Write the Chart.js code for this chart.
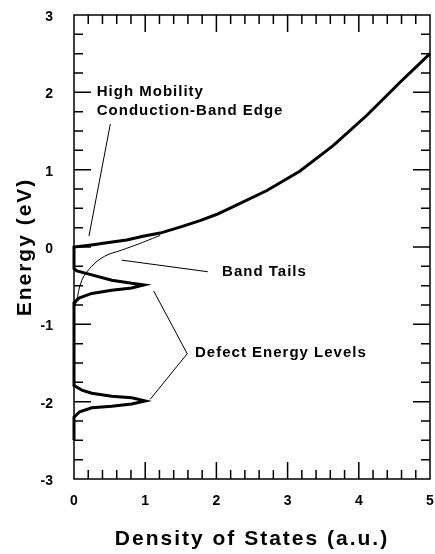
<!DOCTYPE html>
<html>
<head>
<meta charset="utf-8">
<script src="https://cdn.jsdelivr.net/npm/chart.js@4.4.1/dist/chart.umd.min.js"></script>
<style>
  body { margin: 0; background: #fff; }
</style>
</head>
<body>
<canvas id="doschart" width="435" height="554"></canvas>
<script>
// density of states, thick curve (x = DOS, E = energy in eV)
const dosX = [0, 0, 0.08, 0.25, 0.53, 0.81, 1.0, 0.81, 0.53, 0.25, 0.11, 0,
    0, 0.07, 0.25, 0.53, 0.81, 0.98, 0.81, 0.53, 0.25, 0.04, 0,
    0, 0.27, 0.51, 0.74, 0.97, 1.21, 1.5, 1.77, 2.0, 2.23, 2.71, 3.17, 3.64, 4.11, 4.58, 5.0];
const dosE = [-2.5, -2.2, -2.13, -2.08, -2.06, -2.03, -1.99, -1.95, -1.93, -1.89, -1.85, -1.79,
    -0.72, -0.66, -0.60, -0.56, -0.53, -0.49, -0.47, -0.43, -0.36, -0.31, -0.28,
    0, 0.03, 0.06, 0.09, 0.14, 0.18, 0.26, 0.34, 0.42, 0.52, 0.73, 0.98, 1.31, 1.70, 2.13, 2.50];

// band tail, thin curve
const tailX = [0, 0.03, 0.11, 0.25, 0.43, 0.67, 0.91, 1.1, 1.21];
const tailE = [-0.78, -0.72, -0.43, -0.25, -0.12, -0.04, 0.04, 0.11, 0.15];

// leader lines for the labels
const leaderMobilityX = [0.51, 0.21];
const leaderMobilityE = [1.59, 0.14];
const leaderTailsX = [0.67, 1.88];
const leaderTailsE = [-0.17, -0.32];
const leaderDefectX = [1.12, 1.59, 1.07];
const leaderDefectE = [-0.57, -1.38, -1.97];

const labelTexts = ['High Mobility', 'Conduction-Band Edge', 'Band Tails', 'Defect Energy Levels'];
const labelX = [0.32, 0.32, 2.08, 1.70];
const labelE = [2.0, 1.76, -0.32, -1.37];

const xTitle = 'Density of States (a.u.)';
const yTitle = 'Energy (eV)';
const xMin = 0, xMax = 5, xMinor = 0.2;
const yMin = -3, yMax = 3, yMinor = 0.25;

function points(xs, ys) {
    return xs.map((v, i) => ({ x: v, y: ys[i] }));
}

function lineSet(xs, ys, width, tension) {
    return {
        data: points(xs, ys),
        showLine: true,
        borderColor: '#000',
        borderWidth: width,
        pointRadius: 0,
        tension: tension || 0,
        clip: false
    };
}

const frameTicks = {
    id: 'frameTicks',
    afterDatasetsDraw(chart) {
        const { ctx, chartArea: a, scales: { x, y } } = chart;
        ctx.save();
        ctx.strokeStyle = '#000';
        ctx.lineWidth = 1.5;
        ctx.strokeRect(a.left, a.top, a.right - a.left, a.bottom - a.top);

        ctx.beginPath();
        const nx = Math.round((xMax - xMin) / xMinor);
        for (let i = 1; i < nx; i++) {
            const px = x.getPixelForValue(xMin + i * xMinor);
            const len = i % 5 == 0 ? 17 : 9;
            ctx.moveTo(px, a.bottom); ctx.lineTo(px, a.bottom - len);
            ctx.moveTo(px, a.top); ctx.lineTo(px, a.top + len);
        }
        const ny = Math.round((yMax - yMin) / yMinor);
        for (let i = 1; i < ny; i++) {
            const py = y.getPixelForValue(yMin + i * yMinor);
            const len = i % 4 == 0 ? 17 : 9;
            ctx.moveTo(a.left, py); ctx.lineTo(a.left + len, py);
            ctx.moveTo(a.right, py); ctx.lineTo(a.right - len, py);
        }
        ctx.stroke();

        ctx.fillStyle = '#000';
        ctx.font = 'bold 15px "Liberation Sans", Arial, sans-serif';
        ctx.letterSpacing = '1px';
        ctx.textAlign = 'left';
        ctx.textBaseline = 'middle';
        labelTexts.forEach((t, i) => {
            ctx.fillText(t, x.getPixelForValue(labelX[i]), y.getPixelForValue(labelE[i]));
        });

        ctx.font = 'bold 21px "Liberation Sans", Arial, sans-serif';
        ctx.letterSpacing = '2px';
        ctx.textAlign = 'center';
        ctx.textBaseline = 'alphabetic';
        ctx.fillText(xTitle, (a.left + a.right) / 2, 545);
        ctx.translate(31, (a.top + a.bottom) / 2);
        ctx.rotate(-Math.PI / 2);
        ctx.fillText(yTitle, 0, 0);
        ctx.restore();
    }
};

Chart.defaults.font.family = '"Liberation Sans", Arial, sans-serif';
Chart.defaults.color = '#000';

new Chart(document.getElementById('doschart'), {
    type: 'scatter',
    data: {
        datasets: [
            lineSet(dosX, dosE, 3),
            lineSet(tailX, tailE, 1, 0.4),
            lineSet(leaderMobilityX, leaderMobilityE, 1),
            lineSet(leaderTailsX, leaderTailsE, 1),
            lineSet(leaderDefectX, leaderDefectE, 1)
        ]
    },
    options: {
        responsive: false,
        animation: false,
        layout: { padding: { top: 15, right: 5, left: 0, bottom: 0 } },
        plugins: {
            legend: { display: false },
            tooltip: { enabled: false }
        },
        scales: {
            x: {
                min: xMin,
                max: xMax,
                grid: { display: false },
                border: { display: false },
                ticks: { stepSize: 1, padding: 6, font: { size: 14, weight: 'bold' } },
                afterFit: (s) => { s.height = 75; s.paddingLeft = 0; s.paddingRight = 0; }
            },
            y: {
                min: yMin,
                max: yMax,
                grid: { display: false },
                border: { display: false },
                ticks: { stepSize: 1, padding: 13, labelOffset: 2, font: { size: 14, weight: 'bold' } },
                afterFit: (s) => { s.width = 74; s.paddingTop = 0; s.paddingBottom = 0; }
            }
        }
    },
    plugins: [frameTicks]
});
</script>
</body>
</html>
